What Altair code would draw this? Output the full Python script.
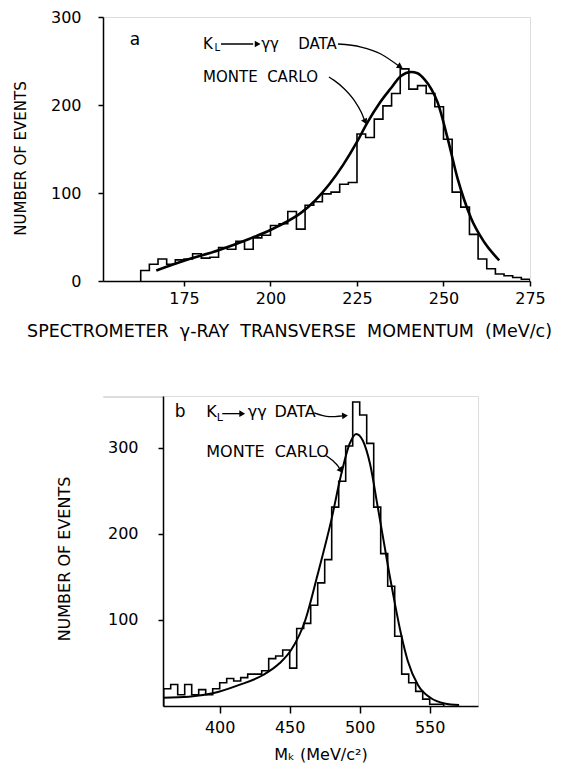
import altair as alt
import pandas as pd
import numpy as np

FONT = "DejaVu Sans"

# ---------------- Panel a data ----------------
a_bin_start = 162.5
a_bin_width = 2.5
a_counts = [12, 19, 25, 19, 24, 25, 31, 26, 27, 38, 36, 45, 36, 49, 52, 63, 65, 79, 59,
            86, 90, 99, 101, 110, 112, 167, 163, 184, 199, 213, 241, 218, 222, 213, 198,
            161, 101, 84, 53, 25, 14, 8, 6, 4, 2]
a_mc_x = [167, 175, 185, 194, 200, 205, 209, 213, 217, 221, 225, 228, 231.5, 234.8,
          237.7, 240.6, 242.5, 244.5, 246.5, 248.3, 251.2, 254.1, 256, 258, 261.8, 266.1]
a_mc_y = [12, 23, 35, 48, 58, 68, 78, 92, 110, 132, 158, 180, 202, 219,
          233, 237.5, 236, 229, 218, 203, 162, 116, 92, 71, 44, 23.5]
a_xticks = [175, 200, 225, 250, 275]
a_yticks = [0, 100, 200, 300]

# ---------------- Panel b data ----------------
b_bin_start = 360
b_bin_width = 5
b_counts = [20, 25, 13, 25, 13, 19, 13, 20, 27, 32, 29, 33, 37, 37, 41, 55, 58, 65, 44, 90,
            96, 117, 143, 170, 231, 261, 302, 353, 338, 305, 231, 177, 139, 81, 37, 27, 17, 8, 2, 2]
b_mc_x = [359.5, 378, 395, 414, 431, 442.7, 451, 461, 470, 479.6, 486.8, 492.7, 497.5,
          502.3, 507.4, 513, 517.5, 521, 525, 529.6, 534.4, 541.6, 551, 560.6, 571]
b_mc_y = [9.7, 10.8, 14.7, 24.5, 36, 49.6, 65, 99, 153, 215, 269, 304, 316,
          308, 281, 230, 188, 155, 120, 83, 52, 24.5, 9, 3, 1.2]
b_xticks = [400, 450, 500, 550]
b_yticks = [100, 200, 300]

# ---------------- Annotations (data units) ----------------
a_text = ["a", "K", "L", "\u03b3\u03b3", "DATA", "MONTE\u00a0 CARLO"]
a_text_x = [160.8, 180.5, 183.8, 197.3, 208.0, 180.5]
a_text_y = [267.8, 263.3, 261.4, 263.3, 263.3, 225.8]
a_text_size = [17, 15, 10, 15, 15, 15]
a_text_align = ["center", "left", "left", "left", "left", "left"]

a_arrow_id = [0, 0, 1, 1, 1, 1, 2, 2, 2, 2, 2, 2]
a_arrow_x = [185.7, 195.0, 219.5, 226.2, 231.9, 237.2, 216.9, 218.4, 221.3, 224.2, 226.2, 227.3]
a_arrow_y = [269.3, 269.3, 269.3, 265.9, 258.0, 244.0, 231.8, 228.0, 218.5, 205.3, 192.0, 181.5]
a_head_x = [196.3, 237.5, 227.4]
a_head_y = [269.3, 243.5, 181.0]
a_head_angle = [0, 33, 64]

b_text = ["b", "K", "L", "\u03b3\u03b3", "DATA", "MONTE\u00a0 CARLO"]
b_text_x = [371.8, 390.4, 397.9, 420.0, 439.1, 390.4]
b_text_y = [335.2, 335.2, 331.4, 335.2, 335.2, 288.6]
b_text_size = [17, 16, 11, 16, 16, 16]
b_text_align = ["center", "left", "left", "left", "left", "left"]

b_arrow_id = [0, 0, 1, 1, 1, 2, 2, 2, 2]
b_arrow_x = [401.8, 414.6, 467.5, 478.2, 488.0, 476.1, 480.9, 484.4, 486.3]
b_arrow_y = [339.5, 339.5, 340.3, 336.0, 337.0, 290.6, 284.7, 278.9, 274.0]
b_head_x = [416.1, 489.5, 486.6]
b_head_y = [339.5, 337.2, 273.6]
b_head_angle = [0, 355, 52]


def step_df(start, width, counts):
    edges = start + width * np.arange(len(counts) + 1)
    xs = [edges[0]] + list(edges[:-1]) + [edges[-1], edges[-1]]
    ys = [0] + list(counts) + [counts[-1], 0]
    return pd.DataFrame({"x": xs, "y": ys, "i": range(len(xs))})


def axis_common():
    return dict(grid=False, domainColor="black", tickColor="black", labelColor="black",
                titleColor="black", domainWidth=1.5, tickWidth=1.5, labelFont=FONT,
                titleFont=FONT, titleFontWeight="normal", labelFlush=False,
                labelOverlap=False)


def panel(counts, start, width, mc_x, mc_y, xdom, ydom, xaxis, yaxis, w, h,
          texts, tx, ty, tsize, talign, arr_id, arr_x, arr_y, hx, hy, hang, mc_width):
    xs = alt.Scale(domain=xdom, nice=False, zero=False)
    ys = alt.Scale(domain=ydom, nice=False, zero=False)
    X = lambda f: alt.X(f, type="quantitative", scale=xs, axis=xaxis)
    Y = lambda f: alt.Y(f, type="quantitative", scale=ys, axis=yaxis)

    hist = alt.Chart(step_df(start, width, counts)).mark_line(
        interpolate="step-after", color="black", strokeWidth=1.6, clip=True
    ).encode(x=X("x"), y=Y("y"), order="i:Q")

    mc = alt.Chart(pd.DataFrame({"x": mc_x, "y": mc_y})).mark_line(
        interpolate="monotone", color="black", strokeWidth=mc_width, clip=True
    ).encode(x=X("x"), y=Y("y"))

    tdf = pd.DataFrame({"t": texts, "x": tx, "y": ty, "s": tsize, "a": talign})
    txt_layers = []
    for al in ["left", "center"]:
        sub = tdf[tdf["a"] == al]
        txt_layers.append(alt.Chart(sub).mark_text(
            align=al, baseline="alphabetic", font=FONT, color="black"
        ).encode(x=X("x"), y=Y("y"), text="t:N", size=alt.Size("s:Q", scale=None, legend=None)))

    adf = pd.DataFrame({"g": arr_id, "x": arr_x, "y": arr_y, "i": range(len(arr_x))})
    arrows = alt.Chart(adf).mark_line(
        interpolate="monotone", color="black", strokeWidth=1.3
    ).encode(x=X("x"), y=Y("y"), detail="g:N", order="i:Q")

    hdf = pd.DataFrame({"x": hx, "y": hy, "ang": hang})
    heads = alt.Chart(hdf).mark_point(
        shape="triangle-right", filled=True, color="black", size=45, opacity=1
    ).encode(x=X("x"), y=Y("y"), angle=alt.Angle("ang:Q", scale=None))

    return alt.layer(hist, mc, arrows, heads, *txt_layers).properties(width=w, height=h)


a_xaxis = alt.Axis(values=a_xticks, title="SPECTROMETER\u00a0 \u03b3-RAY\u00a0 TRANSVERSE\u00a0 MOMENTUM\u00a0 (MeV/c)",
                   titleX=186, titleY=50, titleBaseline="middle", titleAlign="center",
                   titleFontSize=17.5, labelFontSize=16, tickSize=5, labelPadding=4,
                   **axis_common())
a_yaxis = alt.Axis(values=a_yticks, title="NUMBER OF EVENTS", titleX=-83, titleY=141,
                   titleAngle=270, titleBaseline="middle", titleAlign="center",
                   titleFontSize=15, labelFontSize=16, tickSize=5, labelPadding=17,
                   **axis_common())
b_xaxis = alt.Axis(values=b_xticks, title="M\u2096 (MeV/c\u00b2)", titleY=48,
                   titleBaseline="middle", titleAlign="center",
                   titleFontSize=16, labelFontSize=16, tickSize=7, labelPadding=6,
                   **axis_common())
b_yaxis = alt.Axis(values=b_yticks, title="NUMBER OF EVENTS", titleX=-98.5, titleY=162.5,
                   titleAngle=270, titleBaseline="middle", titleAlign="center",
                   titleFontSize=16, labelFontSize=16, tickSize=5, labelPadding=20,
                   **axis_common())

top = panel(a_counts, a_bin_start, a_bin_width, a_mc_x, a_mc_y, [151.6, 275], [0, 300],
            a_xaxis, a_yaxis, 427, 264, a_text, a_text_x, a_text_y, a_text_size, a_text_align,
            a_arrow_id, a_arrow_x, a_arrow_y, a_head_x, a_head_y, a_head_angle, 2.6)

bottom = panel(b_counts, b_bin_start, b_bin_width, b_mc_x, b_mc_y, [359.5, 584.5], [0, 360],
               b_xaxis, b_yaxis, 315, 310, b_text, b_text_x, b_text_y, b_text_size, b_text_align,
               b_arrow_id, b_arrow_x, b_arrow_y, b_head_x, b_head_y, b_head_angle, 2.0)

spacer = alt.Chart(pd.DataFrame({"v": [0]})).mark_point(opacity=0).encode(
    x=alt.X("v:Q", axis=None), y=alt.Y("v:Q", axis=None)
).properties(width=60, height=1)

bottom_row = alt.hconcat(spacer, bottom, spacing=0, bounds="flush")

chart = alt.vconcat(top, bottom_row, spacing=115, bounds="flush").properties(
    padding={"left": 4, "top": 0, "right": 0, "bottom": 0}
).configure_view(stroke=None).configure(background="white")

chart.save("out.html", embed_options={"renderer": "svg", "actions": False})
